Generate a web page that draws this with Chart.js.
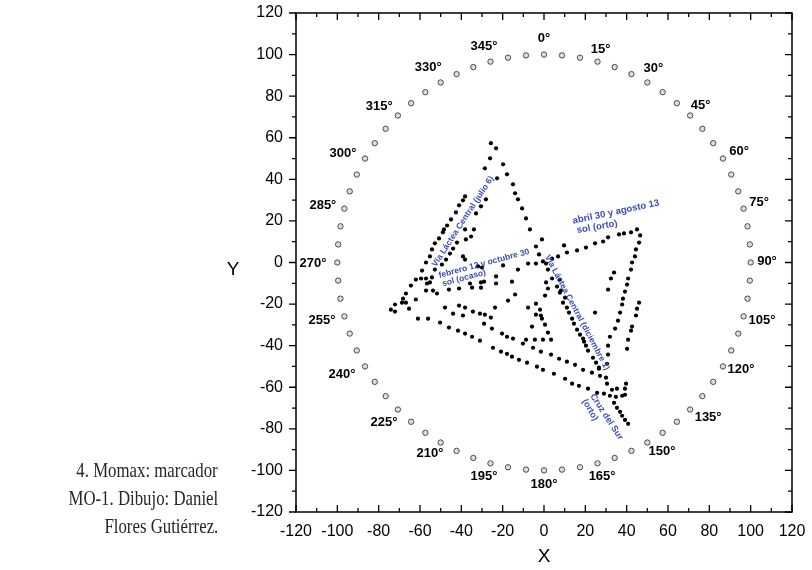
<!DOCTYPE html>
<html><head><meta charset="utf-8">
<script src="https://cdn.jsdelivr.net/npm/chart.js@4.4.0/dist/chart.umd.min.js"></script>
<style>
html,body{margin:0;padding:0;background:#fff;}
#wrap{position:relative;width:812px;height:570px;overflow:hidden;}
canvas{position:absolute;left:0;top:0;}
.cap{position:absolute;right:594px;font-family:'Liberation Serif',serif;font-size:21px;line-height:28px;white-space:nowrap;color:#262626;transform:scaleX(0.8);transform-origin:right center;}
</style></head><body>
<div id="wrap"><canvas id="c" width="812" height="570"></canvas>
<div class="cap" style="top:456px">4. Momax: marcador</div>
<div class="cap" style="top:484px">MO-1. Dibujo: Daniel</div>
<div class="cap" style="top:512px">Flores Gutiérrez.</div>
</div>
<script>
// ---- data ----
const xTicks = [-120,-100,-80,-60,-40,-20,0,20,40,60,80,100,120];
const yTicks = [-120,-100,-80,-60,-40,-20,0,20,40,60,80,100,120];
const minorTicks = [-110,-90,-70,-50,-30,-10,10,30,50,70,90,110];

const ringX = [0,8.7,17.4,25.9,34.2,42.3,50,57.4,64.3,70.7,76.6,81.9,86.6,90.6,94,96.6,98.5,99.6,100,99.6,98.5,96.6,94,90.6,86.6,81.9,76.6,70.7,64.3,57.4,50,42.3,34.2,25.9,17.4,8.7,0,-8.7,-17.4,-25.9,-34.2,-42.3,-50,-57.4,-64.3,-70.7,-76.6,-81.9,-86.6,-90.6,-94,-96.6,-98.5,-99.6,-100,-99.6,-98.5,-96.6,-94,-90.6,-86.6,-81.9,-76.6,-70.7,-64.3,-57.4,-50,-42.3,-34.2,-25.9,-17.4,-8.7];
const ringY = [100,99.6,98.5,96.6,94,90.6,86.6,81.9,76.6,70.7,64.3,57.4,50,42.3,34.2,25.9,17.4,8.7,0,-8.7,-17.4,-25.9,-34.2,-42.3,-50,-57.4,-64.3,-70.7,-76.6,-81.9,-86.6,-90.6,-94,-96.6,-98.5,-99.6,-100,-99.6,-98.5,-96.6,-94,-90.6,-86.6,-81.9,-76.6,-70.7,-64.3,-57.4,-50,-42.3,-34.2,-25.9,-17.4,-8.7,0,8.7,17.4,25.9,34.2,42.3,50,57.4,64.3,70.7,76.6,81.9,86.6,90.6,94,96.6,98.5,99.6];

const degLabels = ['0°','15°','30°','45°','60°','75°','90°','105°','120°','135°','150°','165°','180°','195°','210°','225°','240°','255°','270°','285°','300°','315°','330°','345°'];
const degX = [0,27.4,52.9,75.8,94.4,104.1,107.9,105.5,95.3,79.4,57.1,28.1,0,-29,-55.2,-77.4,-97.8,-107.4,-111.8,-107,-97.3,-79.7,-56,-29];
const degY = [107.8,102.5,93.4,75.7,53.5,28.9,0.5,-28,-51.6,-74.7,-91.1,-103.1,-106.5,-103.1,-91.6,-77.1,-54,-28,-0.5,27.5,52.5,75.2,93.8,104.1];

const apexDots = [[-25.7,57.4],[-23.2,54.9],[-26.1,50.1],[-28.6,45.3],[-19.8,47.2],[-22.7,40.5],[-17.9,42.4],[-15.0,37.6],[-14.0,33.3],[-12.6,30.4],[-10.6,26.0],[-8.7,21.2],[-6.8,15.9],[-1.0,11.1],[-3.9,7.7]];
const julioDots = [[-38.2,31.8],[-39.2,29.9],[-41.1,27.5],[-42.6,24.1],[-45.0,20.7],[-46.9,17.8],[-48.4,15.9],[-48.9,14.5],[-50.8,11.6],[-52.8,9.2],[-54.2,6.3],[-55.2,2.9],[-57.1,0],[-59.0,-3.9],[-62.0,-8.2],[-64.4,-11.1],[-66.8,-14.9],[-68.2,-17.4],[-68.7,-19.3],[-72.1,-20.2],[-74.1,-22.7],[-72.1,-23.6],[-66.8,-19.3],[-65.3,-22.2],[-62.0,-17.8]];
const innerDots = [[-28.1,30.4],[-30.5,27.0],[-32.9,23.6],[-33.9,15.9],[-35.3,12.5],[-38.2,15.9],[-37.8,11.1],[-42.1,9.6],[-44.0,6.7],[-45.5,4.3],[-47.4,1.4],[-49.4,-1.0],[-52.8,-3.4],[-57.1,-7.7],[-59.5,-7.7],[-55.2,-9.6],[-53.7,-13.5],[-51.8,-14.9],[-56.6,-10.1],[-54.2,-7.2],[-57.1,-13.5]];
const ocasoDots = [[-46.0,-13.0],[-41.1,-12.5],[-35.8,-10.1],[-34.8,-12.1],[-30.5,-9.6],[-29.0,-9.2],[-30.5,-12.1],[-23.2,-6.7],[-23.2,-10.1],[-19.8,-1.4],[-15.5,-9.2],[-12.6,-3.4],[-39.2,2.9],[-38.2,1.4],[-31.9,-1.9],[-30.0,-2.4]];
const ortoDots = [[-7.7,-0.5],[-2.4,3.9],[-3.9,-0.5],[-0.5,0.5],[3.9,1.9],[6.8,2.9],[11.1,4.8],[9.7,8.2],[16.0,5.8],[20.3,7.2],[24.7,9.2],[28.6,10.1],[31.0,12.1],[36.3,13.5],[38.7,14.0],[42.1,14.5],[45.0,15.9]];
const rightDots = [[46.5,13.0],[46.0,9.6],[44.5,6.3],[44.0,2.9],[42.6,0],[42.1,-3.4],[40.7,-7.7],[40.2,-10.6],[39.2,-14.0],[38.2,-17.4],[37.8,-20.2],[36.8,-24.1],[35.8,-28.0],[34.4,-31.8],[33.9,-4.8],[32.4,-7.7],[31.0,-13.0],[46.0,-19.3],[45.0,-22.2],[44.5,-25.5],[42.6,-30.8],[42.1,-32.8],[24.7,-24.1],[40.7,-37.1],[40.2,-41.5],[31.0,-40.0],[31.0,-44.3],[30.5,-48.7],[31.9,-35.7]];
const diciembreDots = [[1.0,-0.5],[1.9,-3.4],[1.0,-9.6],[1.9,-12.5],[0.5,-15.9],[3.9,-7.7],[6.3,-11.6],[7.7,-14.5],[9.2,-19.3],[11.1,-21.7],[12.1,-24.1],[13.6,-27.0],[14.5,-29.4],[16.0,-32.3],[17.4,-34.7],[18.9,-36.6],[20.3,-40.0],[21.3,-42.4],[23.7,-45.8],[26.6,-50.6],[27.1,-54.5],[30.0,-55.4],[7.7,-8.2],[8.2,-13.5],[10.2,-16.9]];
const centerDots = [[-7.7,-21.7],[-3.9,-19.8],[-1.9,-22.7],[-3.9,-25.1],[-1.5,-25.5],[-5.8,-30.8],[0.5,-29.9],[1.9,-33.7],[-1.0,-27.0],[-8.7,-37.1],[-10.2,-39.0],[-4.4,-37.1],[-5.3,-41.0],[-0.5,-37.1],[3.4,-37.1],[-14.0,-15.4],[-17.4,-18.3],[-23.7,-21.7]];
const lowerDots = [[-61.0,-27.0],[-56.1,-27.0],[-50.3,-28.9],[-46.0,-31.3],[-41.6,-32.8],[-38.2,-34.2],[-34.8,-35.7],[-31.0,-37.6],[-24.7,-41.0],[-20.8,-42.9],[-17.9,-43.9],[-15.5,-45.3],[-12.1,-46.8],[-8.2,-48.2],[-3.4,-50.1],[-0.5,-51.6],[4.8,-53.5],[10.2,-55.9],[13.6,-58.3],[16.9,-59.3],[21.3,-60.7],[25.7,-62.7],[29.0,-63.1],[31.9,-64.1],[34.8,-64.6]];
const middleDots = [[-47.9,-21.7],[-44.0,-24.6],[-39.2,-25.5],[-41.1,-20.7],[-38.2,-21.7],[-34.4,-23.6],[-31.0,-24.6],[-28.6,-25.1],[-25.7,-26.5],[-29.0,-29.4],[-25.2,-31.8],[-20.3,-34.2],[-17.9,-35.7],[-15.0,-36.6],[-1.5,-42.9],[3.4,-44.3],[7.3,-46.3],[11.1,-47.7],[15.0,-49.2],[18.9,-51.6],[23.2,-53.0],[26.6,-51.1],[25.2,-48.2],[19.4,-38.1]];
const cruzDots = [[32.9,-61.2],[35.3,-60.7],[39.2,-60.7],[39.7,-58.3],[39.2,-63.6],[30.5,-58.3],[33.9,-67.5],[35.3,-69.9],[36.8,-71.8],[37.8,-73.7],[39.2,-75.7],[40.7,-77.6],[37.8,-64.1]];

// ---- annotation texts (data-space anchors) ----
const notes = [
  {t:'Vía Láctea Central (julio 6)', x:-39.2, y:19.8, a:-57, s:8.5},
  {t:'febrero 12 y octubre 30', x:-29.0, y:-0.5, a:-15, s:8.5},
  {t:'sol (ocaso)', x:-38.7, y:-7.5, a:-15, s:8.5},
  {t:'abril 30 y agosto 13', x:34.8, y:24.3, a:-12, s:9.5},
  {t:'sol (orto)', x:25.7, y:17.1, a:-10, s:9.5},
  {t:'Vía Láctea Central (diciembre 1)', x:16.0, y:-24.1, a:62, s:8.5},
  {t:'Cruz del Sur', x:30.3, y:-74.2, a:57, s:9},
  {t:'(orto)', x:22.3, y:-70.9, a:60, s:9}
];

const ringData = ringX.map((v,i)=>({x:v, y:ringY[i]}));
const allDots = [].concat(apexDots, julioDots, innerDots, ocasoDots, ortoDots, rightDots, diciembreDots, centerDots, lowerDots, middleDots, cruzDots).map(p=>({x:p[0], y:p[1]}));

const decor = {
  id:'decor',
  afterDatasetsDraw(chart){
    const {ctx, chartArea:a, scales:{x, y}} = chart;
    ctx.save();
    ctx.fillStyle = '#000';
    ctx.textAlign = 'center';
    ctx.textBaseline = 'middle';
    ctx.font = 'bold 13px "Liberation Sans", Arial, sans-serif';
    degLabels.forEach((t,i)=>ctx.fillText(t, x.getPixelForValue(degX[i]), y.getPixelForValue(degY[i])));
    ctx.fillStyle = '#3c4bb8';
    notes.forEach(n=>{
      ctx.save();
      ctx.translate(x.getPixelForValue(n.x), y.getPixelForValue(n.y));
      ctx.rotate(n.a*Math.PI/180);
      ctx.font = 'bold ' + n.s + 'px "Liberation Sans", Arial, sans-serif';
      ctx.fillText(n.t, 0, 0);
      ctx.restore();
    });
    ctx.strokeStyle = '#000';
    ctx.lineWidth = 1.5;
    ctx.strokeRect(a.left, a.top, a.right-a.left, a.bottom-a.top);
    ctx.lineWidth = 1.3;
    ctx.beginPath();
    const tk = (vals, len) => {
      vals.forEach(v=>{
        const px = x.getPixelForValue(v), py = y.getPixelForValue(v);
        ctx.moveTo(px, a.bottom); ctx.lineTo(px, a.bottom - len);
        ctx.moveTo(px, a.top); ctx.lineTo(px, a.top + len);
        ctx.moveTo(a.left, py); ctx.lineTo(a.left - len, py);
        ctx.moveTo(a.right, py); ctx.lineTo(a.right - len, py);
      });
    };
    tk(xTicks, 7);
    tk(minorTicks, 4);
    ctx.stroke();
    ctx.fillStyle = '#000';
    ctx.font = '19px "Liberation Sans", Arial, sans-serif';
    ctx.fillText('X', x.getPixelForValue(0), 557);
    ctx.fillText('Y', 233, 270);
    ctx.restore();
  }
};

new Chart(document.getElementById('c'), {
  type:'scatter',
  data:{datasets:[
    {data:ringData, pointRadius:2.7, pointBorderWidth:1, borderColor:'#4a4a4a', backgroundColor:'#dcdcdc', pointStyle:'circle'},
    {data:allDots, pointRadius:2.1, pointBorderWidth:0, borderColor:'#000', backgroundColor:'#000'}
  ]},
  options:{
    responsive:false, animation:false, events:[],
    layout:{padding:{left:0, right:20, top:13, bottom:0}},
    plugins:{legend:{display:false}, tooltip:{enabled:false}},
    scales:{
      x:{type:'linear', min:-120, max:120,
        afterBuildTicks:s=>{s.ticks = xTicks.map(v=>({value:v}));},
        afterFit:s=>{s.height = 58; s.paddingLeft = 0; s.paddingRight = 0;},
        grid:{display:false, drawTicks:false}, border:{display:false},
        ticks:{padding:10, color:'#000', maxRotation:0, autoSkip:false, font:{family:'"Liberation Sans", Arial', size:16}}},
      y:{type:'linear', min:-120, max:120,
        afterBuildTicks:s=>{s.ticks = yTicks.map(v=>({value:v}));},
        afterFit:s=>{s.width = 296; s.paddingTop = 0; s.paddingBottom = 0;},
        grid:{display:false, drawTicks:false}, border:{display:false},
        ticks:{padding:13, color:'#000', autoSkip:false, font:{family:'"Liberation Sans", Arial', size:16}}}
    }
  },
  plugins:[decor]
});
</script>
</body></html>
